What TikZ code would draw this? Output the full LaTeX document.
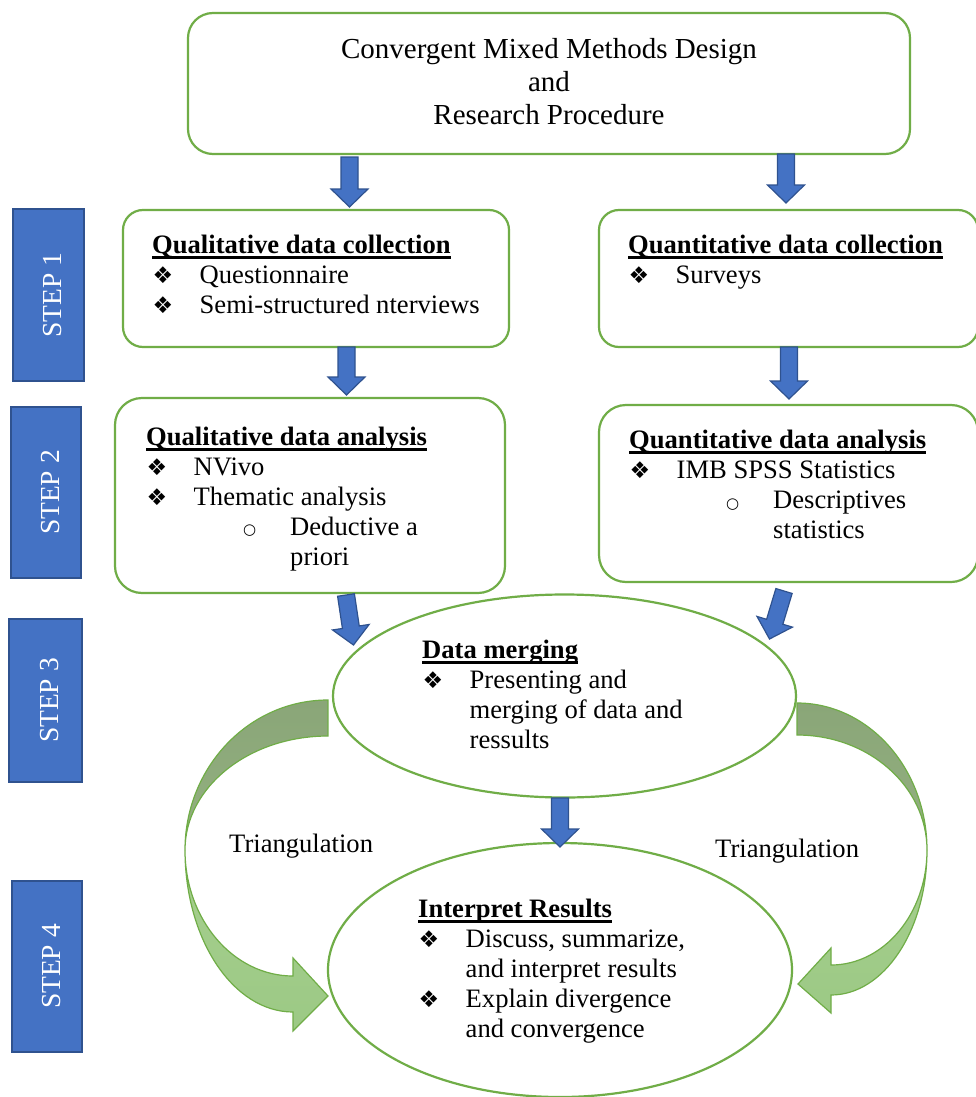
\documentclass[tikz,border=0pt]{standalone}
\usepackage{fontspec}
\setmainfont{Liberation Serif}
\newfontfamily\djv{DejaVu Sans}
\usetikzlibrary{calc,shapes.geometric}
\definecolor{grn}{HTML}{70AD47}
\definecolor{blu}{HTML}{4472C4}
\definecolor{bluedge}{HTML}{2F528F}
\definecolor{darkbandA}{HTML}{8AA678}
\definecolor{darkbandB}{HTML}{93B080}
\definecolor{lightbandA}{HTML}{A6CF8E}
\definecolor{lightbandB}{HTML}{9CC985}
\newcommand\bul{{\djv\fontsize{23}{23}\selectfont\char"2756}}
\newcommand\cir{\raisebox{0.5pt}{\djv\fontsize{15}{15}\selectfont\char"25CB}}
\newcommand\myul[1]{\setbox0=\hbox{#1}\rlap{\rule[-5.5pt]{\wd0}{2.5pt}}\box0}
\newcommand\bitem[1]{\hbox{\hbox to 47.5pt{\kern0.5pt\bul\hfil}#1}}
\newcommand\sitem[1]{\hbox{\hbox to 144pt{\kern97pt\cir\hfil}#1}}
\newcommand\contl[2]{\hbox{\kern#1#2}}
\newcommand\ttl[1]{\hbox{\myul{\bfseries #1}}}
\newcommand\barrow[2]{%
  \coordinate (bh) at ($(#2)!18pt!(#1)$);
  \filldraw[blockarr] ($(#1)!8.5pt!90:(#2)$) -- ($(bh)!8.5pt!90:(#2)$) -- ($(bh)!18.5pt!90:(#2)$) -- (#2) -- ($(bh)!18.5pt!-90:(#2)$) -- ($(bh)!8.5pt!-90:(#2)$) -- ($(#1)!8.5pt!-90:(#2)$) -- cycle;}
\tikzset{
  gbox/.style={draw=grn, line width=2.2pt, fill=white, inner sep=0pt},
  stepbox/.style={draw=bluedge, line width=1.5pt, fill=blu, inner sep=0pt},
  steptxt/.style={rotate=90, text=white, inner sep=0pt, font=\fontsize{27.5}{30}\selectfont},
  txt/.style={anchor=base west, inner sep=0pt, font=\fontsize{26.6}{30}\selectfont},
  blockarr/.style={fill=blu, draw=bluedge, line width=1.2pt, line join=miter},
  band/.style={draw=grn, line width=1.2pt},
}
\begin{document}
\begin{tikzpicture}[x=1pt,y=-1pt]
\useasboundingbox (0,0) rectangle (976,1097);
\fill[white] (0,0) rectangle (976,1097);

% step boxes
\node[stepbox, minimum width=71, minimum height=172] (s1) at (48.5,295) {};
\node[stepbox, minimum width=70, minimum height=171] (s2) at (46,492.5) {};
\node[stepbox, minimum width=73, minimum height=163] (s3) at (45.5,700.5) {};
\node[stepbox, minimum width=70, minimum height=171] (s4) at (47,966.5) {};
\node[steptxt] (s1t) at ([xshift=4.5]s1.center) {STEP 1};
\node[steptxt] (s2t) at ([xshift=4.5]s2.center) {STEP 2};
\node[steptxt] (s3t) at ([xshift=4.5]s3.center) {STEP 3};
\node[steptxt] (s4t) at ([xshift=4.5]s4.center) {STEP 4};

% green boxes
\node[gbox, rounded corners=25pt, minimum width=722, minimum height=141] (title) at (549,83.5) {};
\node[gbox, rounded corners=20pt, minimum width=386, minimum height=137] (qlc) at (316,278.5) {};
\node[gbox, rounded corners=20pt, minimum width=379, minimum height=137] (qnc) at (788.5,278.5) {};
\node[gbox, rounded corners=27pt, minimum width=390, minimum height=195] (qla) at (310,495.5) {};
\node[gbox, rounded corners=27pt, minimum width=379, minimum height=177] (qna) at (788.5,493.5) {};

% ellipses
\node[gbox, ellipse, minimum width=463, minimum height=203] (merge) at (564.5,696) {};
\node[gbox, ellipse, minimum width=464, minimum height=254] (interp) at (560,970) {};

% curved triangulation arrows (left)
\shade[band, top color=darkbandA, bottom color=darkbandB]
  (328,700) .. controls (249,700) and (185,767.2) .. (185,850)
  .. controls (185,787) and (249,736) .. (328,736) -- cycle;
\shade[band, top color=lightbandA, bottom color=lightbandB]
  (185,850) .. controls (185,939.5) and (233.4,1012) .. (293,1012)
  -- (293,1031) -- (328,996) -- (293,958) -- (293,976)
  .. controls (233.4,976) and (185,919.6) .. (185,850) -- cycle;
% right
\shade[band, top color=darkbandA, bottom color=darkbandB]
  (797,703) .. controls (868.8,703) and (927,768.8) .. (927,850)
  .. controls (927,786.5) and (868.8,735) .. (797,735) -- cycle;
\shade[band, top color=lightbandA, bottom color=lightbandB]
  (927,850) .. controls (927,930.1) and (884,995) .. (831,995)
  -- (831,1013) -- (798,984) -- (831,948) -- (831,965)
  .. controls (884,965) and (927,913.5) .. (927,850) -- cycle;

% blue block arrows
\coordinate (a1s) at (349.5,157);  \coordinate (a1t) at (349.5,207);
\coordinate (a2s) at (786,154);    \coordinate (a2t) at (786,203);
\coordinate (a3s) at (346.5,347);  \coordinate (a3t) at (346.5,395);
\coordinate (a4s) at (789,347);    \coordinate (a4t) at (789,399);
\coordinate (a5s) at (346,595);    \coordinate (a5t) at (353.5,645);
\coordinate (a6s) at (784,591);    \coordinate (a6t) at (769.5,639);
\coordinate (a7s) at (560,798);    \coordinate (a7t) at (560,847);
\barrow{a1s}{a1t}
\barrow{a2s}{a2t}
\barrow{a3s}{a3t}
\barrow{a4s}{a4t}
\barrow{a5s}{a5t}
\barrow{a6s}{a6t}
\barrow{a7s}{a7t}

% texts
\node[anchor=base, inner sep=0pt, font=\fontsize{29}{33}\selectfont] (titletxt) at (549,59)
  {\vtop{\baselineskip=33pt
   \hbox to 0pt{\hss Convergent Mixed Methods Design\hss}
   \hbox to 0pt{\hss and\hss}
   \hbox to 0pt{\hss Research Procedure\hss}}};

\node[txt] (qlctxt) at (152,253) {\vtop{\baselineskip=30pt
  \ttl{Qualitative data collection}
  \bitem{Questionnaire}
  \bitem{Semi-structured nterviews}}};

\node[txt] (qnctxt) at (628,253) {\vtop{\baselineskip=30pt
  \ttl{Quantitative data collection}
  \bitem{Surveys}}};

\node[txt] (qlatxt) at (146,445) {\vtop{\baselineskip=30pt
  \ttl{Qualitative data analysis}
  \bitem{NVivo}
  \bitem{Thematic analysis}
  \sitem{Deductive a}
  \contl{144pt}{priori}}};

\node[txt] (qnatxt) at (629,448) {\vtop{\baselineskip=30.3pt
  \ttl{Quantitative data analysis}
  \bitem{IMB SPSS Statistics}
  \sitem{Descriptives}
  \contl{144pt}{statistics}}};

\node[txt] (mergetxt) at (422,658) {\vtop{\baselineskip=30pt
  \ttl{Data merging}
  \bitem{Presenting and}
  \contl{47.5pt}{merging of data and}
  \contl{47.5pt}{ressults}}};

\node[txt] (interptxt) at (418,917) {\vtop{\baselineskip=30pt
  \ttl{Interpret Results}
  \bitem{Discuss, summarize,}
  \contl{47.5pt}{and interpret results}
  \bitem{Explain divergence}
  \contl{47.5pt}{and convergence}}};

\node[txt] (triL) at (229,852) {Triangulation};
\node[txt] (triR) at (715,857) {Triangulation};
\end{tikzpicture}
\end{document}
